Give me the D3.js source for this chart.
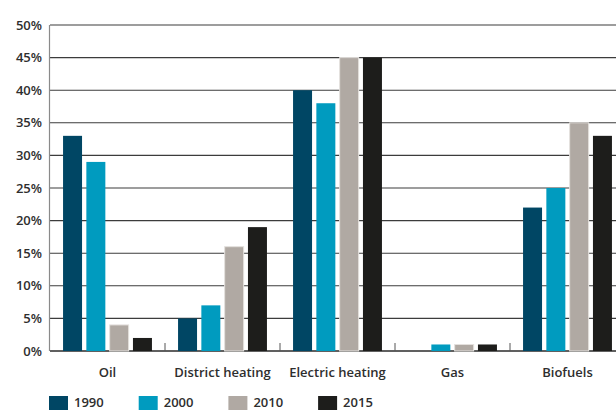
<!DOCTYPE html>
<html>
<head>
<meta charset="utf-8">
<script src="https://cdn.jsdelivr.net/npm/d3@7"></script>
<style>
  html, body { margin: 0; padding: 0; background: #fff; }
  svg { display: block; font-family: "Open Sans", sans-serif; }
</style>
</head>
<body>
<svg id="chart" width="616" height="410"></svg>
<script>
// Share of heating sources by year (%)
const categories = ["Oil", "District heating", "Electric heating", "Gas", "Biofuels"];
const years = ["1990", "2000", "2010", "2015"];
const values1990 = [33, 5, 40, 0, 22];
const values2000 = [29, 7, 38, 1, 25];
const values2010 = [4, 16, 45, 1, 35];
const values2015 = [2, 19, 45, 1, 33];
const yTicks = [0, 5, 10, 15, 20, 25, 30, 35, 40, 45, 50];
const colors = ["#004664", "#009bbf", "#b0a9a3", "#1d1d1b"];

const series = [values1990, values2000, values2010, values2015];

const svg = d3.select("#chart");
const margin = { left: 50, top: 25, bottom: 59 };
const plotRight = 625;
const height = 410;

const x = d3.scaleBand()
  .domain(categories)
  .range([margin.left, plotRight])
  .paddingInner(0)
  .paddingOuter(0);

const x1 = d3.scaleBand()
  .domain(years)
  .range([0, x.bandwidth()])
  .paddingInner(0.185)
  .paddingOuter(0.56);

const y = d3.scaleLinear()
  .domain([0, 50])
  .range([height - margin.bottom, margin.top]);

// horizontal gridlines
svg.append("g")
  .selectAll("line")
  .data(yTicks)
  .join("line")
  .attr("x1", margin.left)
  .attr("x2", 616)
  .attr("y1", d => y(d))
  .attr("y2", d => y(d))
  .attr("stroke", d => d === 0 ? "#2b2b2b" : "#3c3c3c")
  .attr("stroke-width", d => d === 0 ? 1.5 : 1.1);

// left axis line
svg.append("line")
  .attr("x1", margin.left - 0.5).attr("x2", margin.left - 0.5)
  .attr("y1", y(50)).attr("y2", y(0))
  .attr("stroke", "#8a8a8a")
  .attr("stroke-width", 1.2);

// y tick labels
svg.append("g")
  .selectAll("text")
  .data(yTicks)
  .join("text")
  .attr("x", 42)
  .attr("y", d => y(d))
  .attr("dy", "0.35em")
  .attr("text-anchor", "end")
  .attr("font-size", 13)
  .attr("font-weight", 600)
  .attr("fill", "#2e2e2e")
  .text(d => d + "%");

// bars
const groups = svg.append("g")
  .selectAll("g")
  .data(categories)
  .join("g")
  .attr("transform", c => `translate(${x(c)},0)`);

groups.selectAll("rect")
  .data((c, i) => years.map((yr, j) => ({ year: yr, j, value: series[j][i] })))
  .join("rect")
  .attr("x", d => x1(d.year))
  .attr("width", x1.bandwidth())
  .attr("y", d => y(d.value))
  .attr("height", d => y(0) - y(d.value))
  .attr("fill", d => colors[d.j])
  .attr("stroke", d => d.j === 2 ? "#e4e1de" : "none")
  .attr("stroke-width", 1);

// category boundary ticks
svg.append("g")
  .selectAll("line")
  .data(categories.slice(1))
  .join("line")
  .attr("x1", c => x(c))
  .attr("x2", c => x(c))
  .attr("y1", y(0) - 8)
  .attr("y2", y(0))
  .attr("stroke", "#555")
  .attr("stroke-width", 1);

// category labels
svg.append("g")
  .selectAll("text")
  .data(categories)
  .join("text")
  .attr("x", c => x(c) + x.bandwidth() / 2)
  .attr("y", 377)
  .attr("text-anchor", "middle")
  .attr("font-size", 13)
  .attr("font-weight", 600)
  .attr("fill", "#2e2e2e")
  .text(c => c);

// legend
const legend = svg.append("g")
  .selectAll("g")
  .data(years)
  .join("g")
  .attr("transform", (d, i) => `translate(${49 + i * 89.7},396)`);

legend.append("rect")
  .attr("width", 19)
  .attr("height", 15)
  .attr("fill", (d, i) => colors[i]);

legend.append("text")
  .attr("x", 25)
  .attr("y", 10.5)
  .attr("font-size", 13)
  .attr("font-weight", 600)
  .attr("fill", "#2e2e2e")
  .text(d => d);
</script>
</body>
</html>
